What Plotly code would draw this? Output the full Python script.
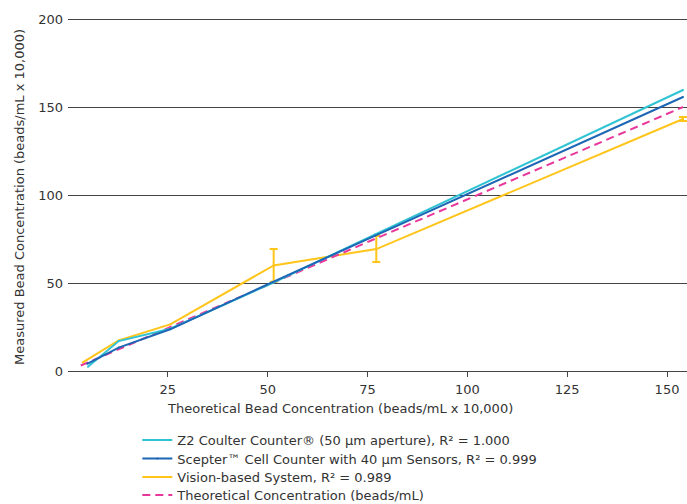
import plotly.graph_objects as go

# Theoretical concentrations (beads/mL x 10,000)
x_z2 = [5.0, 12.7, 25.6, 51.2, 76.8, 154.0]
y_z2 = [2.4, 17.0, 24.0, 50.0, 77.5, 159.7]

x_scepter = [4.8, 12.7, 25.6, 51.2, 76.8, 154.0]
y_scepter = [4.1, 13.3, 23.7, 50.5, 76.8, 155.7]

x_vision = [3.7, 12.7, 25.6, 51.5, 77.2, 154.0]
y_vision = [4.9, 17.4, 26.5, 60.0, 69.3, 143.2]

x_vision_err = [51.5, 77.2, 154.0]
y_vision_err = [60.0, 69.3, 143.2]
err_vision = [9.3, 7.4, 1.2]

x_theory = [3.2, 12.8, 25.6, 51.2, 76.8, 154.0]
y_theory = [3.1, 12.5, 25.0, 50.0, 75.0, 150.0]

x_ticks = [25, 50, 75, 100, 125, 150]
y_ticks = [0, 50, 100, 150, 200]

names = [
    "Z2 Coulter Counter® (50 µm aperture), R² = 1.000",
    "Scepter™ Cell Counter with 40 µm Sensors, R² = 0.999",
    "Vision-based System, R² = 0.989",
    "Theoretical Concentration (beads/mL)",
]
x_title = "Theoretical Bead Concentration (beads/mL x 10,000)"
y_title = "Measured Bead Concentration (beads/mL x 10,000)"

c_cyan = "#2fc3d3"
c_blue = "#1c66b5"
c_yellow = "#ffc51a"
c_pink = "#e8379a"

FONT = "Verdana, DejaVu Sans, sans-serif"
TXT = "#333333"
FS = 13

L, T, B = 68, 18, 133
W, H = 687, 504
PW, PH = W - L, H - T - B
bottom_px = H - B


def py(px):
    return -(px - bottom_px) / PH


fig = go.Figure()
fig.add_trace(go.Scatter(
    x=x_vision, y=y_vision, name=names[2], mode="lines+markers",
    line=dict(color=c_yellow, width=2), marker=dict(size=2, color=c_yellow),
    legend="legend3"))
fig.add_trace(go.Scatter(
    x=x_vision_err, y=y_vision_err, mode="markers", showlegend=False,
    marker=dict(size=1, color="rgba(0,0,0,0)"),
    error_y=dict(type="data", array=err_vision, color=c_yellow, thickness=2, width=4),
    hoverinfo="skip"))
fig.add_trace(go.Scatter(
    x=x_theory, y=y_theory, name=names[3], mode="lines",
    line=dict(color=c_pink, width=2, dash="8px,5px"), legend="legend4"))
fig.add_trace(go.Scatter(
    x=x_z2, y=y_z2, name=names[0], mode="lines+markers",
    line=dict(color=c_cyan, width=2), marker=dict(size=2, color=c_cyan),
    legend="legend"))
fig.add_trace(go.Scatter(
    x=x_scepter, y=y_scepter, name=names[1], mode="lines+markers",
    line=dict(color=c_blue, width=2), marker=dict(size=2, color=c_blue),
    legend="legend2"))

row_centers = [440, 458.5, 477, 495]
legend_common = dict(x=0.112, xanchor="left", yanchor="middle",
                     font=dict(family=FONT, size=FS, color=TXT),
                     bgcolor="rgba(0,0,0,0)", borderwidth=0)

fig.update_layout(
    width=W, height=H,
    margin=dict(l=L, r=0, t=T, b=B, autoexpand=False),
    paper_bgcolor="white", plot_bgcolor="white",
    font=dict(family=FONT, size=FS, color=TXT),
    showlegend=True,
    legend=dict(y=py(row_centers[0]), **legend_common),
    legend2=dict(y=py(row_centers[1]), **legend_common),
    legend3=dict(y=py(row_centers[2]), **legend_common),
    legend4=dict(y=py(row_centers[3]), **legend_common),
    xaxis=dict(range=[0, 155], tickvals=x_ticks, automargin=False,
               showgrid=False, zeroline=False, showline=True,
               linecolor="#444444", linewidth=1,
               ticks="outside", ticklen=5, tickcolor="#444444",
               ticklabelstandoff=1,
               tickfont=dict(size=FS, color=TXT)),
    yaxis=dict(range=[0, 200.6], tickvals=y_ticks, automargin=False,
               showgrid=True, gridcolor="#444444", gridwidth=1,
               zeroline=False, showline=False, ticks="",
               ticklabelstandoff=4,
               tickfont=dict(size=FS, color=TXT)),
    annotations=[
        dict(text=x_title, xref="paper", yref="paper", x=(340 - L) / PW,
             y=py(409), xanchor="center", yanchor="middle",
             showarrow=False, font=dict(size=FS, color=TXT)),
        dict(text=y_title, xref="paper", yref="paper", x=-(L - 20) / PW,
             y=py(197), xanchor="center", yanchor="middle", textangle=-90,
             showarrow=False, font=dict(size=FS, color=TXT)),
    ],
)

fig.write_html("out.html",
               config={"displayModeBar": False},
               post_script="document.body.style.margin='0';document.body.style.padding='0';")
